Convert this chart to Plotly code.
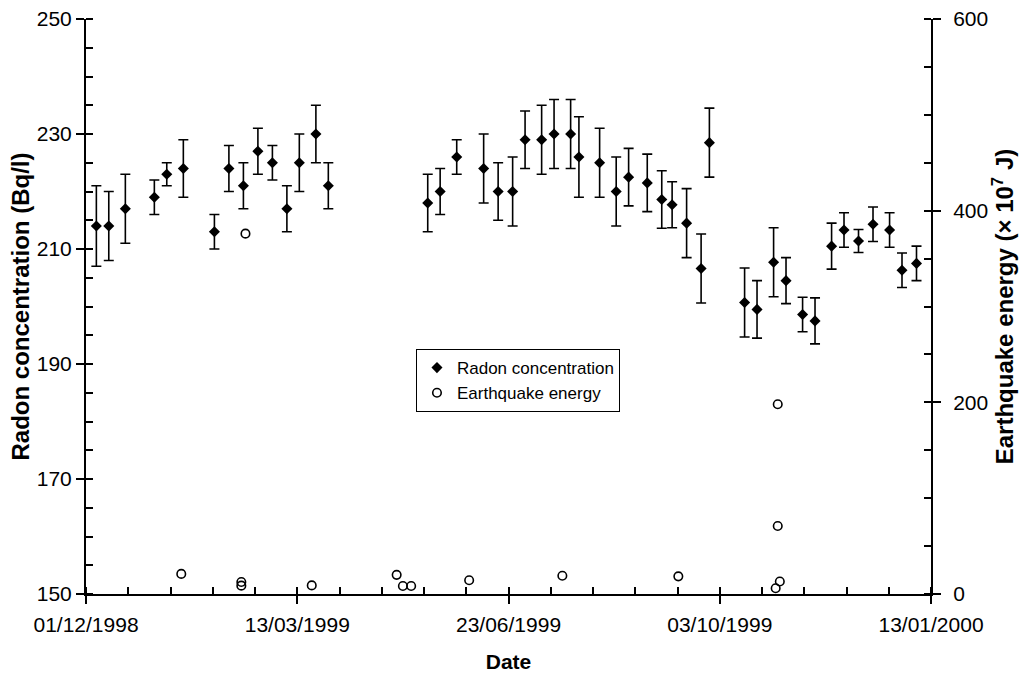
import plotly.graph_objects as go

# Radon concentration (Bq/l) with error bars
radon_dates = [
    "1998-12-06", "1998-12-12", "1998-12-20", "1999-01-03", "1999-01-09", "1999-01-17",
    "1999-02-01", "1999-02-08", "1999-02-15", "1999-02-22", "1999-03-01", "1999-03-08",
    "1999-03-14", "1999-03-22", "1999-03-28",
    "1999-05-15", "1999-05-21", "1999-05-29", "1999-06-11", "1999-06-18", "1999-06-25",
    "1999-07-01", "1999-07-09", "1999-07-15", "1999-07-23", "1999-07-27", "1999-08-06",
    "1999-08-14", "1999-08-20", "1999-08-29", "1999-09-05", "1999-09-10", "1999-09-17",
    "1999-09-24", "1999-09-28", "1999-10-15", "1999-10-21", "1999-10-29", "1999-11-04",
    "1999-11-12", "1999-11-18", "1999-11-26", "1999-12-02", "1999-12-09", "1999-12-16",
    "1999-12-24", "1999-12-30", "2000-01-06",
]
radon_values = [
    214, 214, 217, 219, 223, 224,
    213, 224, 221, 227, 225, 217,
    225, 230, 221,
    218, 220, 226, 224, 220, 220,
    229, 229, 230, 230, 226, 225,
    220, 222.5, 221.5, 218.6, 217.7, 214.5,
    206.6, 228.5, 200.7, 199.5, 207.7, 204.5,
    198.6, 197.5, 210.5, 213.3, 211.4, 214.3,
    213.3, 206.3, 207.5,
]
radon_errors = [
    7, 6, 6, 3, 2, 5,
    3, 4, 4, 4, 3, 4,
    5, 5, 4,
    5, 4, 3, 6, 5, 6,
    5, 6, 6, 6, 7, 6,
    6, 5, 5, 5, 4, 6,
    6, 6, 6, 5, 6, 4,
    3, 4, 4, 3, 2, 3,
    3, 3, 3,
]

# Earthquake energy (x 10^7 J)
quake_dates = [
    "1999-01-16", "1999-02-14", "1999-02-14", "1999-02-16", "1999-03-20",
    "1999-04-30", "1999-05-03", "1999-05-07", "1999-06-04", "1999-07-19",
    "1999-09-13", "1999-10-30", "1999-11-01", "1999-10-31", "1999-10-31",
]
quake_energy = [
    21, 12.5, 8.7, 376, 9,
    20, 8.3, 8.3, 14.3, 19,
    18.4, 6, 13, 198, 71,
]

x_tick_start = "1998-12-01"
x_range = ["1998-12-01", "2000-01-13"]
DAY_MS = 86400000

FONT = "Liberation Sans, Arial, sans-serif"

fig = go.Figure()

fig.add_trace(go.Scatter(
    x=radon_dates, y=radon_values, mode="markers", name="Radon concentration",
    marker=dict(symbol="diamond", size=8.5, color="black"),
    error_y=dict(type="data", array=radon_errors, color="black", thickness=1.6, width=5),
    xaxis="x", yaxis="y",
))
fig.add_trace(go.Scatter(
    x=quake_dates, y=quake_energy, mode="markers", name="Earthquake energy",
    marker=dict(symbol="circle-open", size=8.5, color="black", line=dict(width=1.6, color="black")),
    xaxis="x", yaxis="y2",
))

tick_font = dict(family=FONT, size=21, color="black")
ytitle_font = dict(family=FONT, size=24, color="black", weight="bold")
xtitle_font = dict(family=FONT, size=21, color="black", weight="bold")

fig.update_layout(
    width=1022, height=673,
    margin=dict(l=86, r=91, t=19, b=79),
    paper_bgcolor="white", plot_bgcolor="white",
    font=dict(family=FONT, color="black"),
    showlegend=True,
    legend=dict(
        x=0.3905, y=0.426, xanchor="left", yanchor="top",
        bgcolor="white", bordercolor="black", borderwidth=1,
        font=dict(family=FONT, size=17, color="black"),
    ),
    xaxis=dict(
        type="date", range=x_range, tick0=x_tick_start, dtick=102 * DAY_MS,
        tickformat="%d/%m/%Y", tickfont=tick_font, ticklabelstandoff=3,
        ticks="outside", ticklen=8, tickwidth=1.5, tickcolor="black",
        showline=True, linecolor="black", linewidth=2,
        showgrid=False, zeroline=False, automargin=False,
        minor=dict(tick0=x_tick_start, dtick=20.4 * DAY_MS, ticks="inside",
                   ticklen=7, tickwidth=1.5, tickcolor="black", showgrid=False),
        title=dict(text="Date", font=xtitle_font, standoff=19),
        anchor="y",
    ),
    xaxis2=dict(
        type="date", range=x_range, tick0=x_tick_start, dtick=102 * DAY_MS,
        overlaying="x", anchor="y", side="bottom", automargin=False,
        ticks="inside", ticklen=8, tickwidth=1.5, tickcolor="black",
        showticklabels=False, showline=False, showgrid=False, zeroline=False,
    ),
    yaxis=dict(
        range=[150, 250], tick0=150, dtick=20, tickfont=tick_font,
        ticks="outside", ticklen=8, tickwidth=1.5, tickcolor="black",
        showline=True, linecolor="black", linewidth=2,
        showgrid=False, zeroline=False, automargin=False,
        minor=dict(dtick=5, ticks="inside", ticklen=7, tickwidth=1.5,
                   tickcolor="black", showgrid=False),
        title=dict(text="Radon concentration (Bq/l)", font=ytitle_font, standoff=0),
        anchor="x",
    ),
    yaxis3=dict(
        range=[150, 250], tick0=150, dtick=20, overlaying="y", side="left", anchor="x",
        ticks="inside", ticklen=8, tickwidth=1.5, tickcolor="black", automargin=False,
        showticklabels=False, showline=False, showgrid=False, zeroline=False,
    ),
    yaxis2=dict(
        range=[0, 600], tick0=0, dtick=200, tickfont=tick_font, ticklabelstandoff=8,
        overlaying="y", side="right", anchor="x", automargin=False,
        ticks="outside", ticklen=8, tickwidth=1.5, tickcolor="black",
        showline=True, linecolor="black", linewidth=2,
        showgrid=False, zeroline=False,
        minor=dict(dtick=50, ticks="inside", ticklen=7, tickwidth=1.5,
                   tickcolor="black", showgrid=False),
        title=dict(text="Earthquake energy (× 10<sup>7</sup> J)", font=ytitle_font, standoff=2),
    ),
    yaxis4=dict(
        range=[0, 600], tick0=0, dtick=200, overlaying="y", side="right", anchor="x",
        ticks="inside", ticklen=8, tickwidth=1.5, tickcolor="black", automargin=False,
        showticklabels=False, showline=False, showgrid=False, zeroline=False,
    ),
)

fig.write_html("out.html", config={"displayModeBar": False},
               post_script="document.body.style.margin='0';")
